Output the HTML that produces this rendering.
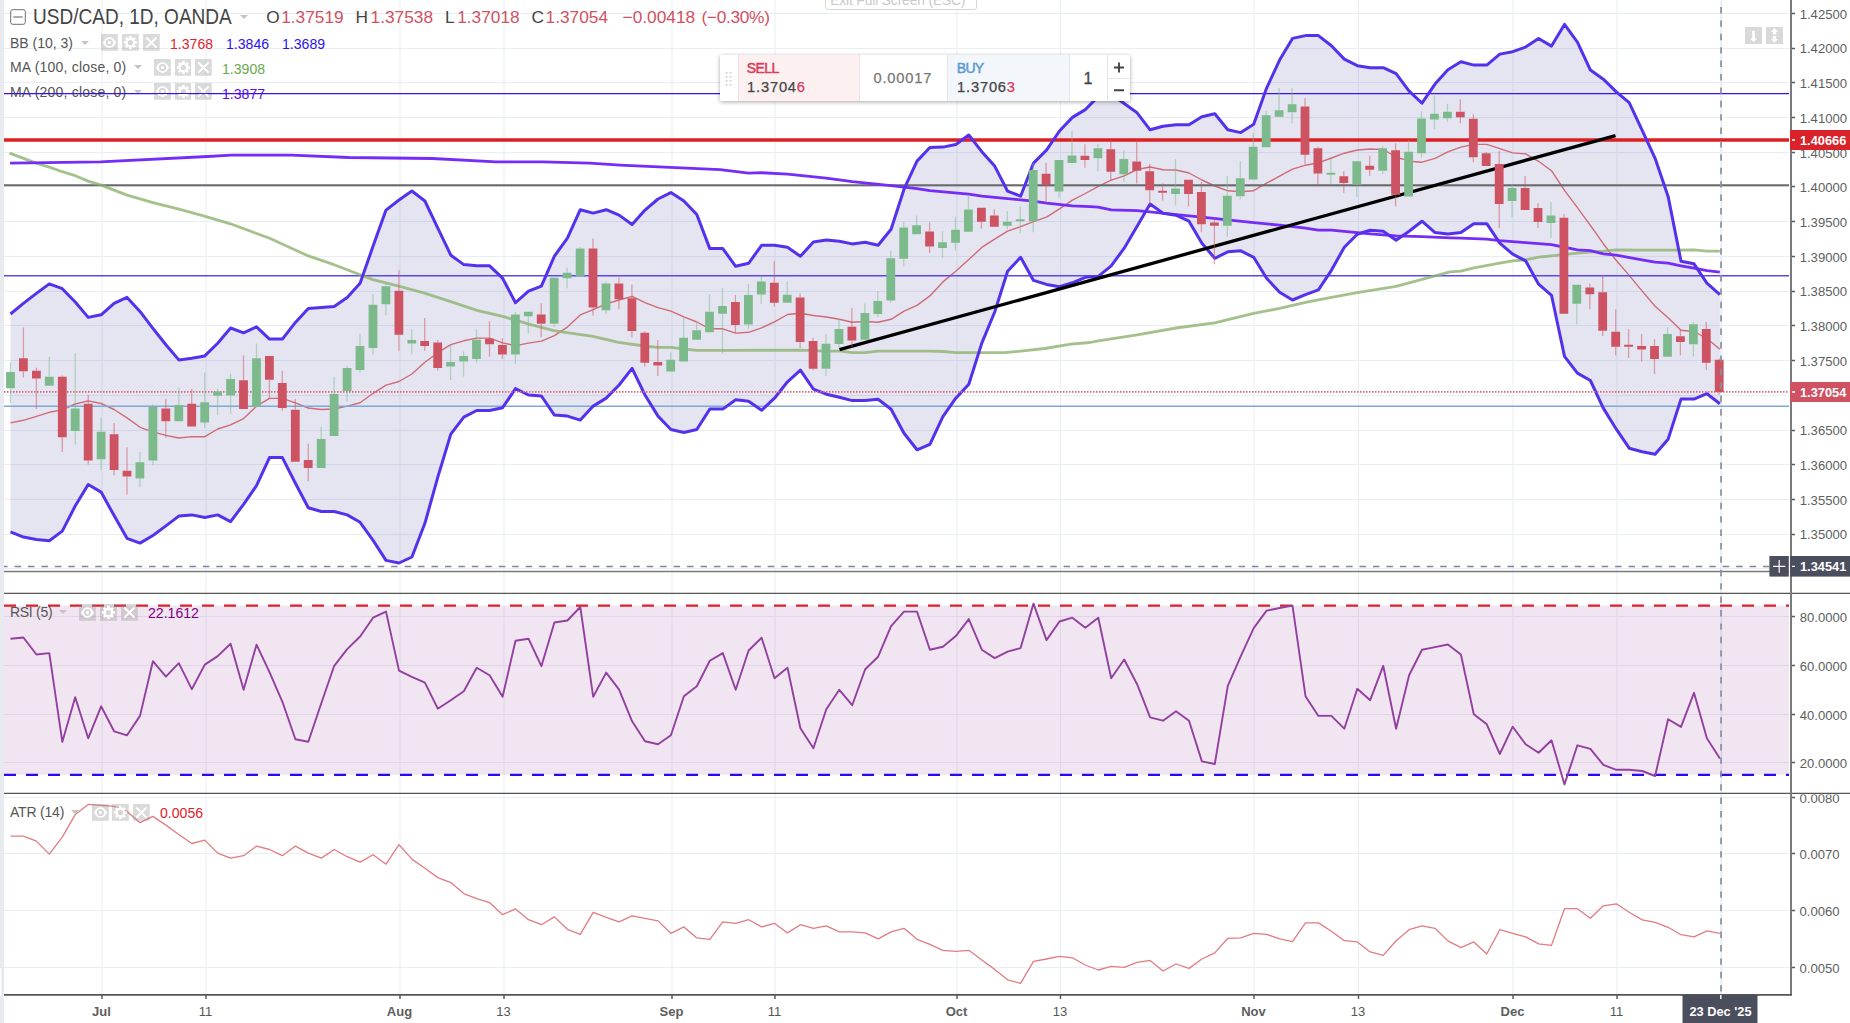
<!DOCTYPE html>
<html><head><meta charset="utf-8"><title>USD/CAD chart</title>
<style>
html,body{margin:0;padding:0;background:#fff;}
body{width:1850px;height:1023px;position:relative;overflow:hidden;font-family:"Liberation Sans",sans-serif;}
.t{position:absolute;white-space:nowrap;line-height:1;}
.ib{position:absolute;}
.v{font-size:15.4px;transform:scaleX(0.915);transform-origin:0 0;}
.o{top:8.5px;font-size:17.3px;color:#d05262;}
.arr{position:absolute;width:0;height:0;border-left:4px solid transparent;border-right:4px solid transparent;border-top:4px solid #c4c4c4;}
#w{position:absolute;left:719.5px;top:54.5px;width:410.4px;height:46.7px;background:#fff;box-shadow:0 1px 4px rgba(0,0,0,0.35);border-radius:1px;}
#w div{position:absolute;top:0;height:46.7px;}
</style></head><body>
<svg width="1850" height="1023" viewBox="0 0 1850 1023" style="position:absolute;left:0;top:0">
<rect width="1850" height="1023" fill="#fff"/>
<rect x="0" y="0" width="4" height="1023" fill="#e7ebef"/>
<rect x="-3" y="967" width="5" height="30" rx="2.5" fill="#fff" stroke="#d5d9e0" stroke-width="0.6"/>
<path d="M4 13.5 H1789 M4 48.5 H1789 M4 82.5 H1789 M4 117.5 H1789 M4 152.5 H1789 M4 186.5 H1789 M4 221.5 H1789 M4 256.5 H1789 M4 291.5 H1789 M4 325.5 H1789 M4 360.5 H1789 M4 395.5 H1789 M4 430.5 H1789 M4 464.5 H1789 M4 499.5 H1789 M4 534.5 H1789 M4 568.5 H1789 M4 616.5 H1789 M4 665.5 H1789 M4 714.5 H1789 M4 762.5 H1789 M4 797.5 H1789 M4 853.5 H1789 M4 910.5 H1789 M4 967.5 H1789 M102 0 V994 M206 0 V994 M400 0 V994 M504 0 V994 M672 0 V994 M775 0 V994 M957 0 V994 M1060.5 0 V994 M1254 0 V994 M1358.5 0 V994 M1513 0 V994 M1617 0 V994" stroke="#e9eef5" stroke-width="1" fill="none"/>
<path d="M1721.3 0 V994" stroke="#e6ebf4" stroke-width="1.8"/>
<clipPath id="cm"><rect x="4" y="0" width="1786" height="571"/></clipPath>
<g clip-path="url(#cm)">
<path d="M10.5 314 L23.4 303.4 L36.4 293.4 L49.3 283.9 L62.3 288.7 L75.2 302 L88.2 317.4 L101.1 314.8 L114.1 303.4 L127 297.4 L140 311.4 L152.9 328.4 L165.9 344.8 L178.8 359.9 L191.8 358.3 L204.8 355.9 L217.7 343.2 L230.6 328 L243.6 332.8 L256.5 326.8 L269.5 339.1 L282.4 339.1 L295.4 322.4 L308.3 308.4 L321.3 307.4 L334.2 306.4 L347.2 297.4 L360.1 283.3 L373.1 246.1 L386 210.1 L399 200 L411.9 191 L424.9 201 L437.8 228.1 L450.8 255.2 L463.8 264.6 L476.7 265.8 L489.6 265.8 L502.6 278.2 L515.5 302.7 L528.5 291.2 L541.4 286.2 L554.4 256.2 L567.4 238.1 L580.3 209.7 L593.2 213.1 L606.2 209.7 L619.1 215.1 L632.1 224.5 L645 210.1 L658 199 L670.9 192.6 L683.9 201 L696.8 214.5 L709.8 248.6 L722.8 248.6 L735.7 266.3 L748.6 263.3 L761.6 245.3 L774.5 245.3 L787.5 247.3 L800.4 256.3 L813.4 241.9 L826.3 239.9 L839.3 241.3 L852.2 243.9 L865.2 242.3 L878.1 245.3 L891.1 229.2 L904 189.2 L917 161.1 L929.9 147.5 L942.9 147.1 L955.8 144.5 L968.8 135 L981.8 151.7 L994.7 166.1 L1007.6 191.2 L1020.6 196.2 L1033.5 163.1 L1046.5 150.1 L1059.5 131 L1072.4 117.4 L1085.3 109.6 L1098.3 96.5 L1111.2 94.5 L1124.2 103.6 L1137.1 112.8 L1150.1 129.8 L1163 126.2 L1176 124.8 L1189 124.8 L1201.9 116.8 L1214.8 113.8 L1227.8 129.8 L1240.8 132.6 L1253.7 124.2 L1266.6 88.1 L1279.6 60.1 L1292.5 38.4 L1305.5 35.6 L1318.4 35.6 L1331.4 45.7 L1344.3 59.1 L1357.3 65.7 L1370.2 67.7 L1383.2 67.7 L1396.1 73.7 L1409.1 91.2 L1422 103.2 L1435 84.1 L1447.9 69.7 L1460.9 61.7 L1473.8 65.1 L1486.8 65.1 L1499.8 54.1 L1512.7 51.7 L1525.6 47.1 L1538.6 38.5 L1551.5 46.1 L1564.5 24.4 L1577.4 42.1 L1590.4 70.1 L1603.3 79.2 L1616.3 91.8 L1629.2 102.6 L1642.2 130.3 L1655.1 158.3 L1668.1 196.4 L1681 261.2 L1694 263.8 L1706.9 283.2 L1719.9 294.7 L1719.9 403.7 L1706.9 393.7 L1694 399.1 L1681 399.1 L1668.1 439.2 L1655.1 454.3 L1642.2 451.8 L1629.2 448.2 L1616.3 429.2 L1603.3 408.1 L1590.4 380.5 L1577.4 373.1 L1564.5 356.4 L1551.5 295.3 L1538.6 284.2 L1525.6 260.8 L1512.7 254.2 L1499.8 243.1 L1486.8 223.7 L1473.8 223.7 L1460.9 232.5 L1447.9 234.1 L1435 232.6 L1422 221.2 L1409.1 231.2 L1396.1 240.2 L1383.2 231.2 L1370.2 230.2 L1357.3 234.2 L1344.3 247.2 L1331.4 270.3 L1318.4 289.9 L1305.5 294.7 L1292.5 300 L1279.6 292.3 L1266.6 278.3 L1253.7 257.3 L1240.8 250.8 L1227.8 251.8 L1214.8 258.3 L1201.9 243.2 L1189 221.2 L1176 215.2 L1163 213.2 L1150.1 204.1 L1137.1 226.2 L1124.2 248.2 L1111.2 265.9 L1098.3 276.3 L1085.3 277.3 L1072.4 282.8 L1059.5 286.8 L1046.5 284.4 L1033.5 280.4 L1020.6 257.3 L1007.6 271.3 L994.7 312 L981.8 343.1 L968.8 384.2 L955.8 398.2 L942.9 416.7 L929.9 444.3 L917 449.8 L904 433.3 L891.1 409.3 L878.1 399.2 L865.2 400.6 L852.2 400.6 L839.3 397.2 L826.3 394.2 L813.4 389.2 L800.4 370.2 L787.5 381.8 L774.5 398.2 L761.6 410.3 L748.6 401.2 L735.7 399.8 L722.8 409.1 L709.8 409.1 L696.8 429.5 L683.9 432.5 L670.9 429.5 L658 416.1 L645 395 L632.1 368.4 L619.1 385 L606.2 398.1 L593.2 406.1 L580.3 420.1 L567.4 416.1 L554.4 415.1 L541.4 396 L528.5 395 L515.5 388.6 L502.6 407.7 L489.6 410.5 L476.7 410.5 L463.8 417.1 L450.8 434.1 L437.8 477.2 L424.9 523.3 L411.9 557 L399 563 L386 560.4 L373.1 540.4 L360.1 522.3 L347.2 514.9 L334.2 511.5 L321.3 511.5 L308.3 507.7 L295.4 483.3 L282.4 457.6 L269.5 457.6 L256.5 485.7 L243.6 504.3 L230.6 521.6 L217.7 514.9 L204.8 517.5 L191.8 514.9 L178.8 516.1 L165.9 525.9 L152.9 535.5 L140 543.1 L127 538.3 L114.1 515.6 L101.1 492.1 L88.2 484.5 L75.2 506 L62.3 531.1 L49.3 540.7 L36.4 539.5 L23.4 537.1 L10.5 531.9 Z" fill="rgba(0,0,128,0.1)"/>
<path d="M10.5 422.9 L23.4 420.3 L36.4 416.4 L49.3 412.3 L62.3 409.9 L75.2 404 L88.2 400.9 L101.1 403.5 L114.1 409.5 L127 417.9 L140 427.3 L152.9 431.9 L165.9 435.4 L178.8 438 L191.8 436.6 L204.8 436.7 L217.7 429 L230.6 424.8 L243.6 418.6 L256.5 406.2 L269.5 398.4 L282.4 398.4 L295.4 402.8 L308.3 408 L321.3 409.5 L334.2 409 L347.2 406.1 L360.1 402.8 L373.1 393.3 L386 385.2 L399 381.5 L411.9 374 L424.9 362.2 L437.8 352.7 L450.8 344.6 L463.8 340.8 L476.7 338.1 L489.6 338.1 L502.6 342.9 L515.5 345.6 L528.5 343.1 L541.4 341.1 L554.4 335.6 L567.4 327.1 L580.3 314.9 L593.2 309.6 L606.2 303.9 L619.1 300 L632.1 296.4 L645 302.6 L658 307.6 L670.9 311.1 L683.9 316.8 L696.8 322 L709.8 328.8 L722.8 328.8 L735.7 333.1 L748.6 332.3 L761.6 327.8 L774.5 321.8 L787.5 314.5 L800.4 313.2 L813.4 315.5 L826.3 317 L839.3 319.3 L852.2 322.3 L865.2 321.5 L878.1 322.3 L891.1 319.3 L904 311.2 L917 305.4 L929.9 295.9 L942.9 281.9 L955.8 271.3 L968.8 259.6 L981.8 247.4 L994.7 239.1 L1007.6 231.2 L1020.6 226.7 L1033.5 221.7 L1046.5 217.2 L1059.5 208.9 L1072.4 200.1 L1085.3 193.5 L1098.3 186.4 L1111.2 180.2 L1124.2 175.9 L1137.1 169.5 L1150.1 167 L1163 169.7 L1176 170 L1189 173 L1201.9 180 L1214.8 186 L1227.8 190.8 L1240.8 191.7 L1253.7 190.7 L1266.6 183.2 L1279.6 176.2 L1292.5 169.2 L1305.5 165.2 L1318.4 162.8 L1331.4 158 L1344.3 153.2 L1357.3 150 L1370.2 149 L1383.2 149.5 L1396.1 157 L1409.1 161.2 L1422 162.2 L1435 158.4 L1447.9 151.9 L1460.9 147.1 L1473.8 144.4 L1486.8 144.4 L1499.8 148.6 L1512.7 152.9 L1525.6 153.9 L1538.6 161.3 L1551.5 170.7 L1564.5 190.4 L1577.4 207.6 L1590.4 225.3 L1603.3 243.7 L1616.3 260.5 L1629.2 275.4 L1642.2 291.1 L1655.1 306.3 L1668.1 317.8 L1681 330.2 L1694 331.5 L1706.9 338.5 L1719.9 349.2" stroke="#cf6b75" stroke-width="1.4" fill="none" stroke-linejoin="round"/>
<path d="M4 93.6 H1789" stroke="#3d12e6" stroke-width="1.4"/>
<path d="M4 140 H1789" stroke="#dc1f22" stroke-width="3.4"/>
<path d="M4 185.2 H1789" stroke="#6a6a6a" stroke-width="2"/>
<path d="M4 275.8 H1789" stroke="#5a48ea" stroke-width="1.6"/>
<path d="M4 406.3 H1789" stroke="#7fa8d6" stroke-width="1.6"/>
<path d="M9.6 153.1 L36.1 163.1 L49.3 167.1 L62.3 171.7 L75.2 175.7 L88.2 181.1 L101.2 185.1 L127.1 195.1 L152.9 202.6 L179 209.2 L204.4 216.2 L230.5 223.8 L256 233.2 L269.6 238.2 L308.3 255.9 L334.1 264.7 L360.2 274.7 L373 279.6 L398.7 286.2 L424.5 293.2 L450 301.3 L476.9 310.3 L502.5 316.3 L528 323.9 L553.8 330.7 L567.1 332.7 L592.9 336.3 L618.6 342.4 L644.2 346 L657.5 347.4 L670.9 347.4 L683.3 348.8 L696.7 350.4 L730 350.4 L800.2 350.1 L826.2 351.1 L840.3 351.1 L852.3 352.7 L865.1 352.7 L878.1 351.1 L929.9 351.1 L942.9 351.5 L955.7 352.7 L978.6 352.7 L1004.6 352.7 L1020.7 351.1 L1044.7 348.5 L1070.8 344.1 L1090 342.5 L1098.2 340.8 L1137.1 334.8 L1176 328 L1214.7 322.8 L1253.6 313.4 L1279.6 308.4 L1305.5 302.4 L1331.4 297.3 L1357.2 292.7 L1396.1 286.3 L1422 279.3 L1450 271.9 L1460.8 271.2 L1473.9 267.8 L1499.7 263.2 L1512.8 260.8 L1525.6 259.8 L1538.6 257.2 L1551.4 255.8 L1577.5 253.2 L1590.3 252.2 L1603.4 251.2 L1616.2 249.8 L1642 250.2 L1668.1 250.2 L1694 249.8 L1707 251.2 L1719.8 251.2" stroke="#8db26f" stroke-opacity="0.8" stroke-width="2.8" fill="none" stroke-linejoin="round"/>
<path d="M10.1 163.2 L100.5 161.9 L207.8 156.5 L231.2 155.2 L291.6 155.2 L348.5 157.5 L432.3 158.5 L496 161.9 L542.9 161.9 L589.8 163.2 L620 165.2 L720 169.7 L748.7 173.1 L761.5 172.7 L787.5 174.1 L826.2 178.1 L852.3 181.7 L891 185.7 L917 188.6 L929.9 190.6 L968.7 194.2 L981.8 196.2 L1020.5 199.8 L1033.5 201.2 L1046.5 203.2 L1072.4 205.8 L1090 206.6 L1098.2 207.1 L1111.3 209.8 L1137.1 210.6 L1150 211.8 L1176 214.6 L1201.9 217.2 L1227.7 219.8 L1253.6 222.6 L1279.6 225.2 L1305.5 228.2 L1318.3 230.2 L1331.4 230.2 L1357.2 232.6 L1370.2 233.8 L1396.1 235.8 L1422 236.6 L1450 237.8 L1460.8 238.1 L1486.7 239.1 L1499.7 240.7 L1525.6 242.7 L1551.4 244.7 L1577.5 249.8 L1590.3 250.6 L1603.4 253.8 L1616.2 255.2 L1642 259.8 L1655.1 262.2 L1668.1 263.2 L1680.9 265.8 L1694 268.2 L1707 270.6 L1719.8 272.2" stroke="#762cf7" stroke-width="2.8" fill="none" stroke-linejoin="round"/>
<path d="M10.5 314 L23.4 303.4 L36.4 293.4 L49.3 283.9 L62.3 288.7 L75.2 302 L88.2 317.4 L101.1 314.8 L114.1 303.4 L127 297.4 L140 311.4 L152.9 328.4 L165.9 344.8 L178.8 359.9 L191.8 358.3 L204.8 355.9 L217.7 343.2 L230.6 328 L243.6 332.8 L256.5 326.8 L269.5 339.1 L282.4 339.1 L295.4 322.4 L308.3 308.4 L321.3 307.4 L334.2 306.4 L347.2 297.4 L360.1 283.3 L373.1 246.1 L386 210.1 L399 200 L411.9 191 L424.9 201 L437.8 228.1 L450.8 255.2 L463.8 264.6 L476.7 265.8 L489.6 265.8 L502.6 278.2 L515.5 302.7 L528.5 291.2 L541.4 286.2 L554.4 256.2 L567.4 238.1 L580.3 209.7 L593.2 213.1 L606.2 209.7 L619.1 215.1 L632.1 224.5 L645 210.1 L658 199 L670.9 192.6 L683.9 201 L696.8 214.5 L709.8 248.6 L722.8 248.6 L735.7 266.3 L748.6 263.3 L761.6 245.3 L774.5 245.3 L787.5 247.3 L800.4 256.3 L813.4 241.9 L826.3 239.9 L839.3 241.3 L852.2 243.9 L865.2 242.3 L878.1 245.3 L891.1 229.2 L904 189.2 L917 161.1 L929.9 147.5 L942.9 147.1 L955.8 144.5 L968.8 135 L981.8 151.7 L994.7 166.1 L1007.6 191.2 L1020.6 196.2 L1033.5 163.1 L1046.5 150.1 L1059.5 131 L1072.4 117.4 L1085.3 109.6 L1098.3 96.5 L1111.2 94.5 L1124.2 103.6 L1137.1 112.8 L1150.1 129.8 L1163 126.2 L1176 124.8 L1189 124.8 L1201.9 116.8 L1214.8 113.8 L1227.8 129.8 L1240.8 132.6 L1253.7 124.2 L1266.6 88.1 L1279.6 60.1 L1292.5 38.4 L1305.5 35.6 L1318.4 35.6 L1331.4 45.7 L1344.3 59.1 L1357.3 65.7 L1370.2 67.7 L1383.2 67.7 L1396.1 73.7 L1409.1 91.2 L1422 103.2 L1435 84.1 L1447.9 69.7 L1460.9 61.7 L1473.8 65.1 L1486.8 65.1 L1499.8 54.1 L1512.7 51.7 L1525.6 47.1 L1538.6 38.5 L1551.5 46.1 L1564.5 24.4 L1577.4 42.1 L1590.4 70.1 L1603.3 79.2 L1616.3 91.8 L1629.2 102.6 L1642.2 130.3 L1655.1 158.3 L1668.1 196.4 L1681 261.2 L1694 263.8 L1706.9 283.2 L1719.9 294.7" stroke="#5531ee" stroke-width="3" fill="none" stroke-linejoin="round"/>
<path d="M10.5 531.9 L23.4 537.1 L36.4 539.5 L49.3 540.7 L62.3 531.1 L75.2 506 L88.2 484.5 L101.1 492.1 L114.1 515.6 L127 538.3 L140 543.1 L152.9 535.5 L165.9 525.9 L178.8 516.1 L191.8 514.9 L204.8 517.5 L217.7 514.9 L230.6 521.6 L243.6 504.3 L256.5 485.7 L269.5 457.6 L282.4 457.6 L295.4 483.3 L308.3 507.7 L321.3 511.5 L334.2 511.5 L347.2 514.9 L360.1 522.3 L373.1 540.4 L386 560.4 L399 563 L411.9 557 L424.9 523.3 L437.8 477.2 L450.8 434.1 L463.8 417.1 L476.7 410.5 L489.6 410.5 L502.6 407.7 L515.5 388.6 L528.5 395 L541.4 396 L554.4 415.1 L567.4 416.1 L580.3 420.1 L593.2 406.1 L606.2 398.1 L619.1 385 L632.1 368.4 L645 395 L658 416.1 L670.9 429.5 L683.9 432.5 L696.8 429.5 L709.8 409.1 L722.8 409.1 L735.7 399.8 L748.6 401.2 L761.6 410.3 L774.5 398.2 L787.5 381.8 L800.4 370.2 L813.4 389.2 L826.3 394.2 L839.3 397.2 L852.2 400.6 L865.2 400.6 L878.1 399.2 L891.1 409.3 L904 433.3 L917 449.8 L929.9 444.3 L942.9 416.7 L955.8 398.2 L968.8 384.2 L981.8 343.1 L994.7 312 L1007.6 271.3 L1020.6 257.3 L1033.5 280.4 L1046.5 284.4 L1059.5 286.8 L1072.4 282.8 L1085.3 277.3 L1098.3 276.3 L1111.2 265.9 L1124.2 248.2 L1137.1 226.2 L1150.1 204.1 L1163 213.2 L1176 215.2 L1189 221.2 L1201.9 243.2 L1214.8 258.3 L1227.8 251.8 L1240.8 250.8 L1253.7 257.3 L1266.6 278.3 L1279.6 292.3 L1292.5 300 L1305.5 294.7 L1318.4 289.9 L1331.4 270.3 L1344.3 247.2 L1357.3 234.2 L1370.2 230.2 L1383.2 231.2 L1396.1 240.2 L1409.1 231.2 L1422 221.2 L1435 232.6 L1447.9 234.1 L1460.9 232.5 L1473.8 223.7 L1486.8 223.7 L1499.8 243.1 L1512.7 254.2 L1525.6 260.8 L1538.6 284.2 L1551.5 295.3 L1564.5 356.4 L1577.4 373.1 L1590.4 380.5 L1603.3 408.1 L1616.3 429.2 L1629.2 448.2 L1642.2 451.8 L1655.1 454.3 L1668.1 439.2 L1681 399.1 L1694 399.1 L1706.9 393.7 L1719.9 403.7" stroke="#5531ee" stroke-width="3" fill="none" stroke-linejoin="round"/>
<path d="M839.5 349.6 L1615.5 135.6" stroke="#000" stroke-width="3.3"/>
<path d="M4 391.8 H1789" stroke="#d96a78" stroke-width="1.8" stroke-dasharray="1.5 1.5"/>
<path d="M4 566.5 H1789" stroke="#7f8596" stroke-width="1.3" stroke-dasharray="6.5 6.95" stroke-dashoffset="2.9"/>
<path d="M10.5 362.3 V371.9 M10.5 388.2 V403 M49.3 356.8 V376.7 M75.2 353.2 V408.5 M75.2 431.1 V444.5 M101.1 418.1 V431.8 M101.1 459.3 V470.1 M139.9 452.1 V462.2 M139.9 478.5 V487.3 M152.9 404.2 V407.1 M152.9 460.5 V465.3 M178.8 387.5 V405 M204.7 372.6 V402.3 M204.7 422.4 V427.7 M217.6 388.7 V391.5 M217.6 395.9 V415 M230.6 373.8 V379.1 M230.6 395.4 V413.8 M256.5 343.6 V358.3 M321.2 426.5 V439 M334.1 376.7 V393.9 M347.1 365.9 V368.1 M347.1 391.1 V401.8 M360 333.6 V346 M360 370 V372.6 M373 293.9 V304.7 M373 348 V354.4 M385.9 283.2 V286.2 M385.9 304.3 V315.3 M411.8 329.3 V340 M411.8 343.4 V354.4 M450.6 344.4 V362 M450.6 366.4 V380 M463.6 351.4 V356 M463.6 361.6 V376.4 M476.5 329.3 V339.8 M476.5 359 V362.8 M515.4 311.9 V314.5 M515.4 354.4 V364 M528.3 316.3 V333.3 M554.2 323.7 V327.3 M567.1 267.8 V272.8 M567.1 278.2 V288.2 M580.1 247.1 V248.4 M606 281.6 V283.6 M606 310.3 V313.9 M670.7 352.4 V359.8 M683.6 317.3 V337.7 M696.6 321.3 V330.3 M709.5 293.9 V311.7 M722.5 287.8 V305.9 M722.5 313.7 V354 M748.4 284 V295 M748.4 324.5 V329.1 M761.3 275.9 V281.4 M761.3 294.4 V304 M787.2 281.4 V294.8 M826 334.1 V343.7 M826 368.8 V376.2 M839 319.1 V329.1 M839 344.1 V348.1 M864.9 303.6 V313.1 M877.8 291 V301 M877.8 314.1 V317.1 M890.8 250.7 V258.3 M890.8 300.4 V302.8 M903.7 222.2 V227.6 M903.7 258.7 V266.3 M916.6 215.6 V225.2 M942.5 231.2 V242.3 M942.5 247.9 V257.9 M955.5 216.8 V229.8 M955.5 242.9 V250.7 M968.4 196.2 V209.6 M1007.3 211.2 V221.8 M1007.3 225.8 V229.2 M1020.2 206.6 V219.2 M1020.2 221.2 V233.2 M1033.2 163.1 V170.1 M1033.2 221.2 V232.2 M1059 191.6 V197.8 M1072 131 V155.5 M1097.9 144.3 V148.3 M1097.9 158.3 V171.3 M1123.8 150.3 V158.9 M1123.8 174.3 V182 M1175.5 159.3 V188.4 M1175.5 194 V205.4 M1227.3 176.1 V195.7 M1227.3 225.8 V236.8 M1240.3 161.3 V178.3 M1240.3 196.4 V199.4 M1253.2 133.2 V146.7 M1266.2 111.2 V115.2 M1279.1 88.1 V110.2 M1292.1 88.1 V104.2 M1292.1 112.2 V123.2 M1330.9 158.3 V172.7 M1330.9 174.7 V184.8 M1356.8 184.4 V196.8 M1382.7 145.9 V148.3 M1382.7 170.7 V174.3 M1408.6 140.3 V151.7 M1421.5 111.2 V118.6 M1421.5 153.3 V157.3 M1434.5 95.8 V113.8 M1434.5 119.6 V129.2 M1447.4 103.8 V111.8 M1447.4 118.2 V121.8 M1512.1 184.4 V188 M1512.1 201 V217.1 M1551 202 V215.5 M1551 223.1 V238.1 M1576.8 303.9 V324.3 M1667.5 326.9 V333.9 M1693.4 321.9 V324.3 M1693.4 344.4 V356.4" stroke="#7dba8b" stroke-opacity="0.5" stroke-width="1.3" fill="none"/>
<path d="M23.4 327.4 V358.3 M23.4 371.2 V377.4 M36.4 367.8 V370.7 M36.4 378.6 V409 M62.3 375.5 V376.7 M62.3 437.3 V452.1 M88.2 394.7 V403.8 M88.2 460.5 V464.6 M114.1 422.9 V434.2 M114.1 470.1 V475.4 M127 447.3 V470.8 M127 476.6 V494.8 M165.8 398.7 V408.5 M165.8 421.2 V437.8 M191.7 388.7 V403.8 M243.5 355.6 V380.3 M269.4 379.8 V398.2 M282.3 370.7 V382.9 M282.3 408.1 V410.7 M295.3 399 V409.7 M308.2 443.7 V460 M308.2 467.9 V481.3 M398.9 270.2 V290.8 M398.9 334.7 V350.8 M424.7 317.9 V341 M424.7 346 V350.8 M437.7 340 V342.4 M437.7 367.8 V370.4 M489.5 321.3 V338.7 M489.5 344.4 V356.8 M502.4 337.9 V345 M502.4 354.4 V359 M541.2 303.3 V314.5 M541.2 323.7 V337.3 M593 238.5 V248.4 M593 307.5 V315.7 M618.9 277.6 V283.6 M618.9 299.3 V309.3 M631.9 284.6 V298.3 M631.9 330.9 V337.3 M644.8 331.3 V332.7 M644.8 362.8 V366.4 M657.8 340 V362 M657.8 365.4 V376 M735.4 295 V302 M735.4 325.1 V333.1 M774.3 261.3 V282.8 M774.3 302.8 V306.4 M800.1 293.6 V297.4 M800.1 342.1 V348.1 M813.1 337.7 V341.1 M813.1 368.8 V370.2 M851.9 308 V326.7 M851.9 340.5 V347.1 M929.6 222.2 V231.6 M929.6 246.7 V252.9 M981.4 221.8 V228.6 M994.3 209.2 V215.6 M1046.1 162.7 V173.7 M1046.1 185.1 V203.2 M1084.9 144.3 V155.7 M1084.9 159.9 V167.7 M1110.8 139.3 V149.3 M1110.8 171.7 V180.4 M1136.7 140.3 V161.5 M1136.7 170.7 V183.4 M1149.7 163.9 V171.3 M1149.7 190.4 V204.4 M1162.6 183.4 V190.8 M1162.6 192.8 V200.4 M1188.5 194 V206.4 M1201.4 182.1 V192.1 M1201.4 224.2 V232.2 M1214.4 217.2 V222.6 M1214.4 225.8 V264.3 M1305 98.2 V106.6 M1305 154.7 V164.3 M1317.9 146.7 V148.3 M1317.9 173.3 V186 M1343.8 171.3 V176.3 M1343.8 183 V192.8 M1369.7 155.7 V165.7 M1369.7 169.7 V175.7 M1395.6 143.3 V150.3 M1395.6 194.8 V206.4 M1460.3 99.2 V111.8 M1460.3 117.2 V123.2 M1473.3 114.2 V118.8 M1473.3 157.3 V162.3 M1486.2 151.9 V153.3 M1499.2 150.9 V163.9 M1499.2 204 V228.1 M1525.1 176 V188 M1538 203.1 V208.1 M1538 222.1 V228.1 M1563.9 214.1 V217.7 M1589.8 283.6 V287.6 M1589.8 294.3 V309.3 M1602.7 274.8 V292.2 M1602.7 330.7 V335.9 M1615.7 309.3 V331.7 M1615.7 346.8 V355.4 M1628.6 328.9 V344.8 M1628.6 346.8 V358 M1641.6 333.9 V346 M1641.6 349.4 V361.4 M1654.5 338.9 V346 M1654.5 359 V374 M1680.4 329.3 V336.3 M1680.4 342 V355.4 M1706.3 321.9 V328.9 M1706.3 362.8 V370 M1719.2 358.4 V359.8 M1719.2 392.1 V394.5" stroke="#cd5262" stroke-opacity="0.5" stroke-width="1.3" fill="none"/>
<path d="M6.1 371.9 h8.8 v16.3 h-8.8z M44.9 376.7 h8.8 v9.1 h-8.8z M70.8 408.5 h8.8 v22.5 h-8.8z M96.7 431.8 h8.8 v27.5 h-8.8z M135.5 462.2 h8.8 v16.3 h-8.8z M148.5 407.1 h8.8 v53.4 h-8.8z M174.4 405 h8.8 v16.3 h-8.8z M200.3 402.3 h8.8 v20.1 h-8.8z M213.2 391.5 h8.8 v4.3 h-8.8z M226.2 379.1 h8.8 v16.3 h-8.8z M252.1 358.3 h8.8 v48.4 h-8.8z M316.8 439 h8.8 v29 h-8.8z M329.7 393.9 h8.8 v42.1 h-8.8z M342.7 368.1 h8.8 v23 h-8.8z M355.6 346 h8.8 v23.9 h-8.8z M368.6 304.7 h8.8 v43.3 h-8.8z M381.5 286.2 h8.8 v18 h-8.8z M407.4 340 h8.8 v3.4 h-8.8z M446.2 362 h8.8 v4.4 h-8.8z M459.2 356 h8.8 v5.6 h-8.8z M472.1 339.8 h8.8 v19.2 h-8.8z M511 314.5 h8.8 v39.9 h-8.8z M523.9 311.7 h8.8 v4.6 h-8.8z M549.8 277.8 h8.8 v45.9 h-8.8z M562.7 272.8 h8.8 v5.4 h-8.8z M575.7 248.4 h8.8 v27.9 h-8.8z M601.6 283.6 h8.8 v26.7 h-8.8z M666.3 359.8 h8.8 v11.6 h-8.8z M679.2 337.7 h8.8 v23.9 h-8.8z M692.2 330.3 h8.8 v9.4 h-8.8z M705.1 311.7 h8.8 v20.6 h-8.8z M718.1 305.9 h8.8 v7.8 h-8.8z M744 295 h8.8 v29.5 h-8.8z M756.9 281.4 h8.8 v13 h-8.8z M782.8 294.8 h8.8 v8 h-8.8z M821.6 343.7 h8.8 v25.1 h-8.8z M834.6 329.1 h8.8 v15 h-8.8z M860.5 313.1 h8.8 v26.7 h-8.8z M873.4 301 h8.8 v13 h-8.8z M886.4 258.3 h8.8 v42.1 h-8.8z M899.3 227.6 h8.8 v31.1 h-8.8z M912.2 225.2 h8.8 v9 h-8.8z M938.1 242.3 h8.8 v5.6 h-8.8z M951.1 229.8 h8.8 v13 h-8.8z M964 209.6 h8.8 v22.2 h-8.8z M1002.9 221.8 h8.8 v4 h-8.8z M1015.8 219.2 h8.8 v2 h-8.8z M1028.8 170.1 h8.8 v51.1 h-8.8z M1054.6 160.1 h8.8 v31.5 h-8.8z M1067.6 155.5 h8.8 v7.6 h-8.8z M1093.5 148.3 h8.8 v10 h-8.8z M1119.4 158.9 h8.8 v15.4 h-8.8z M1171.1 188.4 h8.8 v5.6 h-8.8z M1222.9 195.7 h8.8 v30.1 h-8.8z M1235.9 178.3 h8.8 v18 h-8.8z M1248.8 146.7 h8.8 v32.7 h-8.8z M1261.8 115.2 h8.8 v32.1 h-8.8z M1274.7 110.2 h8.8 v6.6 h-8.8z M1287.7 104.2 h8.8 v8 h-8.8z M1326.5 172.7 h8.8 v2 h-8.8z M1352.4 161.3 h8.8 v23.1 h-8.8z M1378.3 148.3 h8.8 v22.4 h-8.8z M1404.2 151.7 h8.8 v44.7 h-8.8z M1417.1 118.6 h8.8 v34.7 h-8.8z M1430 113.8 h8.8 v5.8 h-8.8z M1443 111.8 h8.8 v6.4 h-8.8z M1507.7 188 h8.8 v13 h-8.8z M1546.6 215.5 h8.8 v7.6 h-8.8z M1572.4 284.8 h8.8 v19 h-8.8z M1663.1 333.9 h8.8 v22.9 h-8.8z M1689 324.3 h8.8 v20 h-8.8z" fill="#7dba8b"/>
<path d="M19 358.3 h8.8 v12.9 h-8.8z M32 370.7 h8.8 v7.9 h-8.8z M57.9 376.7 h8.8 v60.6 h-8.8z M83.8 403.8 h8.8 v56.8 h-8.8z M109.7 434.2 h8.8 v35.9 h-8.8z M122.6 470.8 h8.8 v5.7 h-8.8z M161.4 408.5 h8.8 v12.7 h-8.8z M187.3 403.8 h8.8 v22.7 h-8.8z M239.1 380.3 h8.8 v28.7 h-8.8z M265 355.9 h8.8 v23.9 h-8.8z M277.9 382.9 h8.8 v25.1 h-8.8z M290.9 409.7 h8.8 v52 h-8.8z M303.8 460 h8.8 v7.9 h-8.8z M394.5 290.8 h8.8 v43.9 h-8.8z M420.3 341 h8.8 v5 h-8.8z M433.3 342.4 h8.8 v25.5 h-8.8z M485.1 338.7 h8.8 v5.6 h-8.8z M498 345 h8.8 v9.4 h-8.8z M536.8 314.5 h8.8 v9.2 h-8.8z M588.6 248.4 h8.8 v59.1 h-8.8z M614.5 283.6 h8.8 v15.6 h-8.8z M627.5 298.3 h8.8 v32.7 h-8.8z M640.4 332.7 h8.8 v30.1 h-8.8z M653.4 362 h8.8 v3.4 h-8.8z M731 302 h8.8 v23.1 h-8.8z M769.9 282.8 h8.8 v20 h-8.8z M795.7 297.4 h8.8 v44.7 h-8.8z M808.7 341.1 h8.8 v27.7 h-8.8z M847.5 326.7 h8.8 v13.8 h-8.8z M925.2 231.6 h8.8 v15 h-8.8z M977 207.8 h8.8 v14 h-8.8z M989.9 215.6 h8.8 v11.2 h-8.8z M1041.7 173.7 h8.8 v11.4 h-8.8z M1080.5 155.7 h8.8 v4.2 h-8.8z M1106.4 149.3 h8.8 v22.4 h-8.8z M1132.3 161.5 h8.8 v9.2 h-8.8z M1145.3 171.3 h8.8 v19 h-8.8z M1158.2 190.8 h8.8 v2 h-8.8z M1184.1 179.8 h8.8 v14.2 h-8.8z M1197 192.1 h8.8 v32.1 h-8.8z M1210 222.6 h8.8 v3.2 h-8.8z M1300.6 106.6 h8.8 v48.1 h-8.8z M1313.5 148.3 h8.8 v25.1 h-8.8z M1339.4 176.3 h8.8 v6.6 h-8.8z M1365.3 165.7 h8.8 v4 h-8.8z M1391.2 150.3 h8.8 v44.5 h-8.8z M1455.9 111.8 h8.8 v5.4 h-8.8z M1468.9 118.8 h8.8 v38.5 h-8.8z M1481.8 153.3 h8.8 v12.6 h-8.8z M1494.8 163.9 h8.8 v40.1 h-8.8z M1520.7 188 h8.8 v22 h-8.8z M1533.6 208.1 h8.8 v14 h-8.8z M1559.5 217.7 h8.8 v96 h-8.8z M1585.4 287.6 h8.8 v6.6 h-8.8z M1598.3 292.2 h8.8 v38.5 h-8.8z M1611.3 331.7 h8.8 v15 h-8.8z M1624.2 344.8 h8.8 v2 h-8.8z M1637.2 346 h8.8 v3.4 h-8.8z M1650.1 346 h8.8 v13 h-8.8z M1676 336.3 h8.8 v5.6 h-8.8z M1701.9 328.9 h8.8 v33.9 h-8.8z M1714.8 359.8 h8.8 v32.3 h-8.8z" fill="#cd5262"/>
</g>
<path d="M4 571.5 H1789" stroke="#7a7a7a" stroke-width="1.4"/>
<path d="M4 593.3 H1850" stroke="#555" stroke-width="1.15"/>
<path d="M4 793.4 H1850" stroke="#555" stroke-width="1.15"/>
<rect x="4" y="605.6" width="1785" height="169.2" fill="rgba(128,0,128,0.1)"/>
<path d="M4 605.6 H1789" stroke="#d9222a" stroke-width="2.2" stroke-dasharray="12 10"/>
<path d="M4 774.8 H1789" stroke="#2a08f0" stroke-width="2.2" stroke-dasharray="12 10"/>
<path d="M10.5 638.7 L23.4 637.5 L36.4 654.5 L49.3 653.1 L62.3 741.9 L75.2 697.2 L88.2 738.3 L101.1 706.3 L114.1 731.3 L127 735.3 L140 715.9 L152.9 661.2 L165.9 676.6 L178.8 663.2 L191.8 689.2 L204.8 664.6 L217.7 656.1 L230.6 643.7 L243.6 689.8 L256.5 644.7 L269.5 672.2 L282.4 701.8 L295.4 739.3 L308.3 741.7 L321.3 703.2 L334.2 665.8 L347.2 649.1 L360.1 636.5 L373.1 617.7 L386 611.6 L399 670.6 L411.9 676.8 L424.9 682.6 L437.8 708.7 L450.8 700.2 L463.8 691.2 L476.7 667.8 L489.6 675.2 L502.6 696.8 L515.5 640.7 L528.5 638.7 L541.4 666.2 L554.4 622.5 L567.4 620.5 L580.3 607 L593.2 696.8 L606.2 672.6 L619.1 689.6 L632.1 721.3 L645 741.3 L658 744.3 L670.9 735.3 L683.9 696.2 L696.8 686.2 L709.8 660.8 L722.8 653.1 L735.7 689.8 L748.6 650.5 L761.6 637.7 L774.5 678.2 L787.5 667.8 L800.4 728.3 L813.4 748.3 L826.3 709.3 L839.3 689.8 L852.2 705.2 L865.2 669.2 L878.1 656.7 L891.1 626.1 L904 611.6 L917 611.6 L929.9 649.7 L942.9 646.7 L955.8 636.1 L968.8 619.1 L981.8 649.7 L994.7 658.1 L1007.6 651.7 L1020.6 648.1 L1033.5 603.6 L1046.5 640.1 L1059.5 621.5 L1072.4 617.7 L1085.3 627.7 L1098.3 617.7 L1111.2 678.2 L1124.2 659.5 L1137.1 684.2 L1150.1 717.3 L1163 720.7 L1176 711.3 L1189 720.7 L1201.9 761.4 L1214.8 764 L1227.8 685.8 L1240.8 656.1 L1253.7 628.1 L1266.6 610.6 L1279.6 608 L1292.5 605.6 L1305.5 696.2 L1318.4 715.9 L1331.4 715.9 L1344.3 728.7 L1357.3 688.8 L1370.2 700.2 L1383.2 665.8 L1396.1 728.7 L1409.1 675.2 L1422 649.7 L1435 647.1 L1447.9 644.5 L1460.9 654.5 L1473.8 714.3 L1486.8 724.3 L1499.8 754 L1512.7 726.7 L1525.6 744.3 L1538.6 752.8 L1551.5 740.3 L1564.5 784.4 L1577.4 745.3 L1590.4 748.9 L1603.3 764.8 L1616.3 769.8 L1629.2 769.8 L1642.2 771 L1655.1 776 L1668.1 719.3 L1681 726.9 L1694 692.8 L1706.9 738.3 L1719.9 758.4" stroke="#92409f" stroke-width="1.9" fill="none" stroke-linejoin="round"/>
<path d="M10.5 836.1 L23.4 836.1 L36.4 841.1 L49.3 854.1 L62.3 837.1 L75.2 814.6 L88.2 804.4 L101.1 805.4 L114.1 806.4 L127 811.4 L140 822.7 L152.9 816.4 L165.9 825.1 L178.8 834.5 L191.8 843.5 L204.8 840.1 L217.7 853.1 L230.6 858.1 L243.6 855.7 L256.5 846.1 L269.5 849.5 L282.4 855.7 L295.4 846.1 L308.3 853.1 L321.3 858.1 L334.2 849.5 L347.2 856.7 L360.1 862.1 L373.1 854.7 L386 864.2 L399 844.7 L411.9 859.1 L424.9 868.2 L437.8 877.6 L450.8 882.6 L463.8 893.6 L476.7 898.6 L489.6 902.6 L502.6 914.7 L515.5 908.9 L528.5 919.7 L541.4 924.7 L554.4 916.9 L567.4 929.3 L580.3 934.3 L593.2 912.3 L606.2 917.3 L619.1 921.9 L632.1 915.9 L645 918.3 L658 920.9 L670.9 933.3 L683.9 926.9 L696.8 937.9 L709.8 939.3 L722.8 921.9 L735.7 923.3 L748.6 919.7 L761.6 926.9 L774.5 923.3 L787.5 932.9 L800.4 924.7 L813.4 928.3 L826.3 925.9 L839.3 931.9 L852.2 931.9 L865.2 932.9 L878.1 938.9 L891.1 931.9 L904 928.3 L917 939.3 L929.9 944.3 L942.9 950.3 L955.8 951.3 L968.8 950.3 L981.8 960 L994.7 969.4 L1007.6 979.8 L1020.6 983.4 L1033.5 961.4 L1046.5 959 L1059.5 956.4 L1072.4 957.8 L1085.3 965 L1098.3 970 L1111.2 966.4 L1124.2 967.4 L1137.1 962.4 L1150.1 960.4 L1163 971 L1176 964 L1189 968.4 L1201.9 959 L1214.8 952.9 L1227.8 938.3 L1240.8 937.9 L1253.7 933.3 L1266.6 934.3 L1279.6 938.9 L1292.5 941.7 L1305.5 922.9 L1318.4 922.9 L1331.4 931.3 L1344.3 940.7 L1357.3 941.9 L1370.2 951.9 L1383.2 955.4 L1396.1 940.7 L1409.1 929.7 L1422 925.9 L1435 928.3 L1447.9 940.9 L1460.9 947.7 L1473.8 941.9 L1486.8 953.9 L1499.8 929.7 L1512.7 933.3 L1525.6 936.9 L1538.6 943.9 L1551.5 945.3 L1564.5 908.7 L1577.4 908.7 L1590.4 918.3 L1603.3 905.8 L1616.3 903.8 L1629.2 912.3 L1642.2 919.9 L1655.1 922.3 L1668.1 927.3 L1681 934.7 L1694 936.9 L1706.9 930.9 L1719.9 933.3" stroke="#e27c81" stroke-width="1.3" fill="none" stroke-linejoin="round"/>
<path d="M1721 0 V995" stroke="#8a8fa0" stroke-width="1.7" stroke-dasharray="6.4 7" stroke-dashoffset="6.4"/>
<path d="M1791 0 V994" stroke="#7a7a7a" stroke-width="2"/>
<path d="M4 994.8 H1792" stroke="#555" stroke-width="1.8"/>
<path d="M1792 13.5 h3 M1792 48.5 h3 M1792 82.5 h3 M1792 117.5 h3 M1792 152.5 h3 M1792 186.5 h3 M1792 221.5 h3 M1792 256.5 h3 M1792 291.5 h3 M1792 325.5 h3 M1792 360.5 h3 M1792 395.5 h3 M1792 430.5 h3 M1792 464.5 h3 M1792 499.5 h3 M1792 534.5 h3 M1792 616.5 h3 M1792 665.5 h3 M1792 714.5 h3 M1792 762.5 h3 M1792 797.5 h3 M1792 853.5 h3 M1792 910.5 h3 M1792 967.5 h3" stroke="#5a5a5a" stroke-width="1.5"/>
<clipPath id="cl"><rect x="1792" y="0" width="60" height="571"/><rect x="1792" y="594" width="60" height="199"/><rect x="1792" y="794.5" width="60" height="200"/></clipPath>
<g clip-path="url(#cl)" font-family='"Liberation Sans", sans-serif' font-size="13.1" fill="#5e5e5e"><text x="1799.7" y="18.6">1.42500</text><text x="1799.7" y="53.3">1.42000</text><text x="1799.7" y="88">1.41500</text><text x="1799.7" y="122.8">1.41000</text><text x="1799.7" y="157.5">1.40500</text><text x="1799.7" y="192.2">1.40000</text><text x="1799.7" y="226.9">1.39500</text><text x="1799.7" y="261.6">1.39000</text><text x="1799.7" y="296.4">1.38500</text><text x="1799.7" y="331.1">1.38000</text><text x="1799.7" y="365.8">1.37500</text><text x="1799.7" y="400.5">1.37000</text><text x="1799.7" y="435.2">1.36500</text><text x="1799.7" y="470">1.36000</text><text x="1799.7" y="504.7">1.35500</text><text x="1799.7" y="539.4">1.35000</text><text x="1799.7" y="622.2">80.0000</text><text x="1799.7" y="671.2">60.0000</text><text x="1799.7" y="720.2">40.0000</text><text x="1799.7" y="768.2">20.0000</text><text x="1799.5" y="803.2">0.0080</text><text x="1799.5" y="859.2">0.0070</text><text x="1799.5" y="916.2">0.0060</text><text x="1799.5" y="973.2">0.0050</text></g>
<rect x="1790" y="130" width="60" height="20" fill="#d9222a"/>
<path d="M1792 140 h3" stroke="#fff" stroke-width="1.6"/>
<text x="1800" y="144.7" font-family='"Liberation Sans", sans-serif' font-size="12.8" font-weight="bold" fill="#fff">1.40666</text>
<rect x="1790" y="382" width="60" height="20" fill="#d05262"/>
<path d="M1792 392 h3" stroke="#fff" stroke-width="1.6"/>
<text x="1800" y="396.7" font-family='"Liberation Sans", sans-serif' font-size="12.8" font-weight="bold" fill="#fff">1.37054</text>
<rect x="1790" y="556" width="60" height="20.6" fill="#4b4e5d"/>
<rect x="1769.4" y="556" width="19.4" height="20.6" fill="#4b4e5d"/>
<path d="M1773 566.4 h12.4 M1779.2 560 v12.8 M1792 566.4 h3" stroke="#fff" stroke-width="1.2"/>
<text x="1800" y="571.1" font-family='"Liberation Sans", sans-serif' font-size="12.8" font-weight="bold" fill="#fff">1.34541</text>
<path d="M102 995 v4 M206 995 v4 M400 995 v4 M504 995 v4 M672 995 v4 M775 995 v4 M957 995 v4 M1060.5 995 v4 M1254 995 v4 M1358.5 995 v4 M1513 995 v4 M1617 995 v4" stroke="#555" stroke-width="1.4"/>
<g font-family='"Liberation Sans", sans-serif' font-size="13" font-weight="bold" fill="#5e5e5e"><text x="101.5" y="1016.3" text-anchor="middle">Jul</text><text x="205.5" y="1016.3" text-anchor="middle" font-weight="normal" fill="#555">11</text><text x="399.5" y="1016.3" text-anchor="middle">Aug</text><text x="503.5" y="1016.3" text-anchor="middle" font-weight="normal" fill="#555">13</text><text x="671.5" y="1016.3" text-anchor="middle">Sep</text><text x="774.5" y="1016.3" text-anchor="middle" font-weight="normal" fill="#555">11</text><text x="956.5" y="1016.3" text-anchor="middle">Oct</text><text x="1060" y="1016.3" text-anchor="middle" font-weight="normal" fill="#555">13</text><text x="1253.5" y="1016.3" text-anchor="middle">Nov</text><text x="1358" y="1016.3" text-anchor="middle" font-weight="normal" fill="#555">13</text><text x="1512.5" y="1016.3" text-anchor="middle">Dec</text><text x="1616.5" y="1016.3" text-anchor="middle" font-weight="normal" fill="#555">11</text></g>
<rect x="1682.5" y="995" width="75" height="28" fill="#4b4e5d"/>
<path d="M1720.8 995 v4" stroke="#fff" stroke-width="1.4"/>
<text x="1720.5" y="1016" text-anchor="middle" font-family='"Liberation Sans", sans-serif' font-size="12.8" font-weight="bold" fill="#fff">23 Dec '25</text>
<rect x="1745" y="27" width="17" height="17" fill="#d9d9d9"/><rect x="1766" y="27" width="17" height="17" fill="#d9d9d9"/>
<path d="M1752.2 30.7 h2.6 v7.8 h2.3 l-3.6 3.6 l-3.6 -3.6 h2.3z" fill="#fff"/>
<path d="M1774.5 28.1 l3.6 3.6 h-1.9 v2.9 h-3.4 v-2.9 h-1.9z M1772.8 35.9 h3.4 v3.4 h1.9 l-3.6 3.4 l-3.6 -3.4 h1.9z" fill="#fff"/>
</svg>
<div class="t" style="left:825px;top:-10px;width:152.4px;height:20.2px;border:1px solid #d6d6d6;border-radius:3px;background:#fff;box-sizing:border-box;"></div>
<div class="t" id="ex" style="left:830.2px;top:-6.2px;font-size:13.8px;color:#c9c9c9;letter-spacing:-0.13px">Exit Full Screen (ESC)</div>
<svg class="ib" style="left:10px;top:8.5px" width="16" height="16" viewBox="0 0 16 16"><rect x="0.7" y="0.7" width="14.6" height="14.6" rx="2" fill="#fff" stroke="#6e6e6e" stroke-width="1"/><path d="M3.2 8h9.6" stroke="#6e6e6e" stroke-width="1.1"/></svg>
<div class="t" id="h1" style="left:33px;top:5.9px;font-size:22px;color:#444;transform:scaleX(0.865);transform-origin:0 0;">USD/CAD, 1D, OANDA</div>
<div class="arr" style="left:240px;top:15px"></div>
<div class="t o" style="left:266.2px;color:#444">O</div><div class="t o" style="left:281.2px">1.37519</div>
<div class="t o" style="left:355.6px;color:#444">H</div><div class="t o" style="left:370.6px">1.37538</div>
<div class="t o" style="left:445px;color:#444">L</div><div class="t o" style="left:457.2px">1.37018</div>
<div class="t o" style="left:531.6px;color:#444">C</div><div class="t o" style="left:545.6px">1.37054</div>
<div class="t o" id="h2" style="left:622.6px">−0.00418</div><div class="t o" id="h3" style="left:701.4px;letter-spacing:-0.3px">(−0.30%)</div>

<div class="t" id="l1" style="left:10px;top:35.5px;font-size:14px;color:#555;">BB (10, 3)</div>
<div class="arr" style="left:81px;top:40.5px"></div>
<svg class="ib" style="left:101px;top:34px" width="16.8" height="16.8" viewBox="0 0 16.8 16.8"><rect width="16.8" height="16.8" fill="rgba(140,140,140,0.32)"/><path d="M1.9 8.5 C4 4.4 6.4 3.2 8.4 3.2 C10.4 3.2 12.9 4.4 15.1 8.5 C12.9 12.6 10.4 13.8 8.4 13.8 C6.4 13.8 4 12.6 1.9 8.5z" fill="#fff"/><circle cx="8.4" cy="8.5" r="2.6" fill="none" stroke="#d6d6d6" stroke-width="1.9"/></svg><svg class="ib" style="left:122.1px;top:34px" width="16.8" height="16.8" viewBox="0 0 16.8 16.8"><rect width="16.8" height="16.8" fill="rgba(140,140,140,0.32)"/><g transform="translate(8.4 8.5)" fill="#fff"><circle r="4.8"/><rect x="-1.35" y="-6.5" width="2.7" height="3" transform="rotate(0)"/><rect x="-1.35" y="-6.5" width="2.7" height="3" transform="rotate(45)"/><rect x="-1.35" y="-6.5" width="2.7" height="3" transform="rotate(90)"/><rect x="-1.35" y="-6.5" width="2.7" height="3" transform="rotate(135)"/><rect x="-1.35" y="-6.5" width="2.7" height="3" transform="rotate(180)"/><rect x="-1.35" y="-6.5" width="2.7" height="3" transform="rotate(225)"/><rect x="-1.35" y="-6.5" width="2.7" height="3" transform="rotate(270)"/><rect x="-1.35" y="-6.5" width="2.7" height="3" transform="rotate(315)"/><circle r="2.6" fill="#d6d6d6"/></g></svg><svg class="ib" style="left:143.1px;top:34px" width="16.8" height="16.8" viewBox="0 0 16.8 16.8"><rect width="16.8" height="16.8" fill="rgba(140,140,140,0.32)"/><path d="M3.3 3.5 L13.5 13.6 M13.5 3.5 L3.3 13.6" stroke="#fff" stroke-width="2"/></svg>
<div class="t v" style="left:170px;top:36px;color:#e0222a;">1.3768</div>
<div class="t v" style="left:226px;top:36px;color:#2a12ee;">1.3846</div>
<div class="t v" style="left:282px;top:36px;color:#2a12ee;">1.3689</div>

<div class="t" id="l2" style="left:10px;top:60px;font-size:14px;color:#555;letter-spacing:0.2px">MA (100, close, 0)</div>
<div class="arr" style="left:134px;top:65px"></div>
<svg class="ib" style="left:153.9px;top:59.3px" width="16.8" height="16.8" viewBox="0 0 16.8 16.8"><rect width="16.8" height="16.8" fill="rgba(140,140,140,0.32)"/><path d="M1.9 8.5 C4 4.4 6.4 3.2 8.4 3.2 C10.4 3.2 12.9 4.4 15.1 8.5 C12.9 12.6 10.4 13.8 8.4 13.8 C6.4 13.8 4 12.6 1.9 8.5z" fill="#fff"/><circle cx="8.4" cy="8.5" r="2.6" fill="none" stroke="#d6d6d6" stroke-width="1.9"/></svg><svg class="ib" style="left:174.7px;top:59.3px" width="16.8" height="16.8" viewBox="0 0 16.8 16.8"><rect width="16.8" height="16.8" fill="rgba(140,140,140,0.32)"/><g transform="translate(8.4 8.5)" fill="#fff"><circle r="4.8"/><rect x="-1.35" y="-6.5" width="2.7" height="3" transform="rotate(0)"/><rect x="-1.35" y="-6.5" width="2.7" height="3" transform="rotate(45)"/><rect x="-1.35" y="-6.5" width="2.7" height="3" transform="rotate(90)"/><rect x="-1.35" y="-6.5" width="2.7" height="3" transform="rotate(135)"/><rect x="-1.35" y="-6.5" width="2.7" height="3" transform="rotate(180)"/><rect x="-1.35" y="-6.5" width="2.7" height="3" transform="rotate(225)"/><rect x="-1.35" y="-6.5" width="2.7" height="3" transform="rotate(270)"/><rect x="-1.35" y="-6.5" width="2.7" height="3" transform="rotate(315)"/><circle r="2.6" fill="#d6d6d6"/></g></svg><svg class="ib" style="left:195.2px;top:59.3px" width="16.8" height="16.8" viewBox="0 0 16.8 16.8"><rect width="16.8" height="16.8" fill="rgba(140,140,140,0.32)"/><path d="M3.3 3.5 L13.5 13.6 M13.5 3.5 L3.3 13.6" stroke="#fff" stroke-width="2"/></svg>
<div class="t v" style="left:222px;top:61px;color:#6aa84f;">1.3908</div>

<div class="t" id="l3" style="left:10px;top:84.5px;font-size:14px;color:#555;letter-spacing:0.2px">MA (200, close, 0)</div>
<div class="arr" style="left:134px;top:89.5px"></div>
<svg class="ib" style="left:153.9px;top:83.3px" width="16.8" height="16.8" viewBox="0 0 16.8 16.8"><rect width="16.8" height="16.8" fill="rgba(140,140,140,0.32)"/><path d="M1.9 8.5 C4 4.4 6.4 3.2 8.4 3.2 C10.4 3.2 12.9 4.4 15.1 8.5 C12.9 12.6 10.4 13.8 8.4 13.8 C6.4 13.8 4 12.6 1.9 8.5z" fill="#fff"/><circle cx="8.4" cy="8.5" r="2.6" fill="none" stroke="#d6d6d6" stroke-width="1.9"/></svg><svg class="ib" style="left:174.7px;top:83.3px" width="16.8" height="16.8" viewBox="0 0 16.8 16.8"><rect width="16.8" height="16.8" fill="rgba(140,140,140,0.32)"/><g transform="translate(8.4 8.5)" fill="#fff"><circle r="4.8"/><rect x="-1.35" y="-6.5" width="2.7" height="3" transform="rotate(0)"/><rect x="-1.35" y="-6.5" width="2.7" height="3" transform="rotate(45)"/><rect x="-1.35" y="-6.5" width="2.7" height="3" transform="rotate(90)"/><rect x="-1.35" y="-6.5" width="2.7" height="3" transform="rotate(135)"/><rect x="-1.35" y="-6.5" width="2.7" height="3" transform="rotate(180)"/><rect x="-1.35" y="-6.5" width="2.7" height="3" transform="rotate(225)"/><rect x="-1.35" y="-6.5" width="2.7" height="3" transform="rotate(270)"/><rect x="-1.35" y="-6.5" width="2.7" height="3" transform="rotate(315)"/><circle r="2.6" fill="#d6d6d6"/></g></svg><svg class="ib" style="left:195.2px;top:83.3px" width="16.8" height="16.8" viewBox="0 0 16.8 16.8"><rect width="16.8" height="16.8" fill="rgba(140,140,140,0.32)"/><path d="M3.3 3.5 L13.5 13.6 M13.5 3.5 L3.3 13.6" stroke="#fff" stroke-width="2"/></svg>
<div class="t v" style="left:222px;top:85.5px;color:#5b10e8;">1.3877</div>
<div style="position:absolute;left:5px;top:92.9px;width:715px;height:1.4px;background:#3d12e6"></div>

<div class="t" id="l4" style="left:10px;top:605px;font-size:14px;color:#555;letter-spacing:-0.3px">RSI (5)</div>
<div class="arr" style="left:59px;top:610px"></div>
<svg class="ib" style="left:79.2px;top:604.4px" width="16.8" height="16.8" viewBox="0 0 16.8 16.8"><rect width="16.8" height="16.8" fill="rgba(140,140,140,0.32)"/><path d="M1.9 8.5 C4 4.4 6.4 3.2 8.4 3.2 C10.4 3.2 12.9 4.4 15.1 8.5 C12.9 12.6 10.4 13.8 8.4 13.8 C6.4 13.8 4 12.6 1.9 8.5z" fill="#fff"/><circle cx="8.4" cy="8.5" r="2.6" fill="none" stroke="#d6d6d6" stroke-width="1.9"/></svg><svg class="ib" style="left:100.2px;top:604.4px" width="16.8" height="16.8" viewBox="0 0 16.8 16.8"><rect width="16.8" height="16.8" fill="rgba(140,140,140,0.32)"/><g transform="translate(8.4 8.5)" fill="#fff"><circle r="4.8"/><rect x="-1.35" y="-6.5" width="2.7" height="3" transform="rotate(0)"/><rect x="-1.35" y="-6.5" width="2.7" height="3" transform="rotate(45)"/><rect x="-1.35" y="-6.5" width="2.7" height="3" transform="rotate(90)"/><rect x="-1.35" y="-6.5" width="2.7" height="3" transform="rotate(135)"/><rect x="-1.35" y="-6.5" width="2.7" height="3" transform="rotate(180)"/><rect x="-1.35" y="-6.5" width="2.7" height="3" transform="rotate(225)"/><rect x="-1.35" y="-6.5" width="2.7" height="3" transform="rotate(270)"/><rect x="-1.35" y="-6.5" width="2.7" height="3" transform="rotate(315)"/><circle r="2.6" fill="#d6d6d6"/></g></svg><svg class="ib" style="left:121.2px;top:604.4px" width="16.8" height="16.8" viewBox="0 0 16.8 16.8"><rect width="16.8" height="16.8" fill="rgba(140,140,140,0.32)"/><path d="M3.3 3.5 L13.5 13.6 M13.5 3.5 L3.3 13.6" stroke="#fff" stroke-width="2"/></svg>
<div class="t v" style="left:147.5px;top:605.2px;color:#800080;">22.1612</div>

<div class="t" id="l5" style="left:10px;top:804.5px;font-size:14px;color:#555;letter-spacing:-0.2px">ATR (14)</div>
<div class="arr" style="left:71px;top:810px"></div>
<svg class="ib" style="left:92px;top:804px" width="16.8" height="16.8" viewBox="0 0 16.8 16.8"><rect width="16.8" height="16.8" fill="rgba(140,140,140,0.32)"/><path d="M1.9 8.5 C4 4.4 6.4 3.2 8.4 3.2 C10.4 3.2 12.9 4.4 15.1 8.5 C12.9 12.6 10.4 13.8 8.4 13.8 C6.4 13.8 4 12.6 1.9 8.5z" fill="#fff"/><circle cx="8.4" cy="8.5" r="2.6" fill="none" stroke="#d6d6d6" stroke-width="1.9"/></svg><svg class="ib" style="left:111.9px;top:804px" width="16.8" height="16.8" viewBox="0 0 16.8 16.8"><rect width="16.8" height="16.8" fill="rgba(140,140,140,0.32)"/><g transform="translate(8.4 8.5)" fill="#fff"><circle r="4.8"/><rect x="-1.35" y="-6.5" width="2.7" height="3" transform="rotate(0)"/><rect x="-1.35" y="-6.5" width="2.7" height="3" transform="rotate(45)"/><rect x="-1.35" y="-6.5" width="2.7" height="3" transform="rotate(90)"/><rect x="-1.35" y="-6.5" width="2.7" height="3" transform="rotate(135)"/><rect x="-1.35" y="-6.5" width="2.7" height="3" transform="rotate(180)"/><rect x="-1.35" y="-6.5" width="2.7" height="3" transform="rotate(225)"/><rect x="-1.35" y="-6.5" width="2.7" height="3" transform="rotate(270)"/><rect x="-1.35" y="-6.5" width="2.7" height="3" transform="rotate(315)"/><circle r="2.6" fill="#d6d6d6"/></g></svg><svg class="ib" style="left:133.1px;top:804px" width="16.8" height="16.8" viewBox="0 0 16.8 16.8"><rect width="16.8" height="16.8" fill="rgba(140,140,140,0.32)"/><path d="M3.3 3.5 L13.5 13.6 M13.5 3.5 L3.3 13.6" stroke="#fff" stroke-width="2"/></svg>
<div class="t v" style="left:160px;top:805.4px;color:#e0222a;">0.0056</div>

<div id="w">
 <div style="left:0;width:18px;"><svg width="18" height="46"><path d="M6.5 17v14M10.5 17v14" stroke="#ccc" stroke-width="1.6" stroke-dasharray="1.6 2.4"/></svg></div>
 <div style="left:18px;width:122px;background:#fdf0f1;border-left:1px solid #f3dfe1;border-right:1px solid #f3dfe1;box-sizing:border-box"></div>
 <div style="left:227.7px;width:122.4px;background:#f3f6fb;border-left:1px solid #e3e8f0;border-right:1px solid #e3e8f0;box-sizing:border-box"></div>
 <div style="left:387.9px;width:1px;background:#e6e6e6"></div>
 <div style="left:387.9px;top:23.5px;width:23px;height:1px;background:#e6e6e6"></div>
 <span class="t" id="w1" style="left:27.2px;top:6.5px;font-size:14px;color:#d63b5a;letter-spacing:-0.55px;-webkit-text-stroke:0.5px #d63b5a">SELL</span>
 <span class="t" id="w2" style="left:27.6px;top:25.2px;font-size:14.7px;color:#444;letter-spacing:0.8px;-webkit-text-stroke:0.25px">1.3704<span style="color:#d63b5a">6</span></span>
 <span class="t" id="w3" style="left:154px;top:16px;font-size:14.7px;color:#777;letter-spacing:0.8px;-webkit-text-stroke:0.25px">0.00017</span>
 <span class="t" id="w4" style="left:237.3px;top:6.5px;font-size:14px;color:#5b9bd5;letter-spacing:-0.75px;-webkit-text-stroke:0.5px #5b9bd5">BUY</span>
 <span class="t" id="w5" style="left:237.6px;top:25.2px;font-size:14.7px;color:#444;letter-spacing:0.8px;-webkit-text-stroke:0.25px">1.3706<span style="color:#d63b5a">3</span></span>
 <span class="t" style="left:364px;top:16.6px;font-size:16px;color:#444;-webkit-text-stroke:0.3px #444">1</span>
 <svg class="ib" style="left:388px;top:0" width="22" height="46"><path d="M6 12.5h10M11 7.5v10M6 35.3h10" stroke="#444" stroke-width="1.9"/></svg>
</div>
</body></html>
